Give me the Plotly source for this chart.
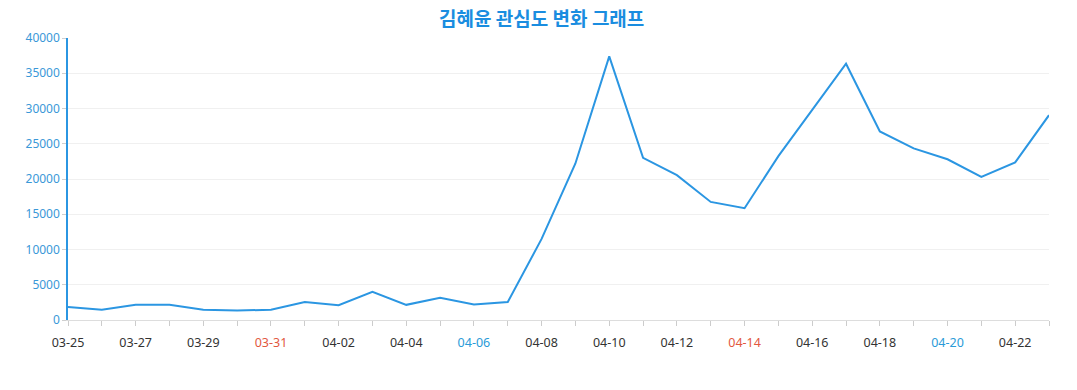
import plotly.graph_objects as go

dates = ["03-25","03-26","03-27","03-28","03-29","03-30","03-31","04-01","04-02","04-03",
         "04-04","04-05","04-06","04-07","04-08","04-09","04-10","04-11","04-12","04-13",
         "04-14","04-15","04-16","04-17","04-18","04-19","04-20","04-21","04-22","04-23"]
values = [1850, 1450, 2150, 2150, 1450, 1350, 1450, 2550, 2100, 4000,
          2150, 3150, 2200, 2550, 11500, 22200, 37400, 23000, 20550, 16750,
          15850, 23250, 29800, 36350, 26750, 24350, 22800, 20300, 22350, 29050]
title = "김혜윤 관심도 변화 그래프"
red_days = ["03-31", "04-14"]
blue_days = ["04-06", "04-20"]

idx = list(range(len(dates)))
ticktext = []
for i, d in enumerate(dates):
    if i % 2 == 1:
        ticktext.append("")
    elif d in red_days:
        ticktext.append(f"<span style='color:#e2583e'>{d}</span>")
    elif d in blue_days:
        ticktext.append(f"<span style='color:#2a9bd8'>{d}</span>")
    else:
        ticktext.append(d)

fig = go.Figure(go.Scatter(
    x=idx, y=values, mode="lines",
    line=dict(color="#2b96e2", width=2),
    hovertemplate="%{text}: %{y}<extra></extra>", text=dates,
))

fig.update_layout(
    width=1077, height=390,
    margin=dict(l=68, r=28, t=38, b=70),
    paper_bgcolor="white", plot_bgcolor="white",
    font=dict(family="Noto Sans, Open Sans, sans-serif", size=12, color="#333333"),
    title=dict(text=f"<b>{title}</b>", x=0.503, xanchor="center", y=0.95, yanchor="middle",
               font=dict(family="Noto Sans CJK KR, Noto Sans", size=19, color="#1a8de0")),
    showlegend=False,
)
fig.update_xaxes(
    range=[0, len(dates) - 1], tickmode="array", tickvals=idx, ticktext=ticktext,
    showgrid=False, zeroline=False,
    showline=True, linecolor="#dddddd", linewidth=1,
    ticks="outside", ticklen=5, tickcolor="#cccccc", ticklabelstandoff=6,
    tickfont=dict(size=12.5, color="#333333"),
)
fig.update_yaxes(
    range=[0, 40000], tickmode="linear", tick0=0, dtick=5000, tickformat="d",
    showgrid=True, gridcolor="#f0f0f0", zeroline=False,
    showline=True, linecolor="#2b96e2", linewidth=1.5,
    ticks="outside", ticklen=4, tickcolor="#cfcfcf",
    tickfont=dict(size=12, color="#3a98d8"),
)

fig.write_html("out.html", config={"displayModeBar": False},
               post_script="document.body.style.margin='0';")
